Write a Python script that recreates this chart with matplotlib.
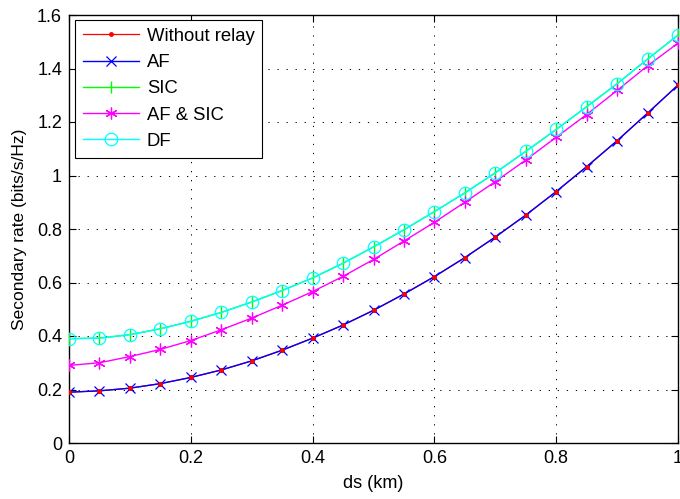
import matplotlib
matplotlib.use("Agg")
import matplotlib.pyplot as plt

x = [0.00, 0.05, 0.10, 0.15, 0.20, 0.25, 0.30, 0.35, 0.40, 0.45, 0.50,
     0.55, 0.60, 0.65, 0.70, 0.75, 0.80, 0.85, 0.90, 0.95, 1.00]
without_relay = [0.190, 0.195, 0.205, 0.222, 0.245, 0.273, 0.307, 0.347, 0.392, 0.441, 0.496,
                 0.557, 0.622, 0.693, 0.770, 0.852, 0.940, 1.033, 1.130, 1.233, 1.338]
af = [0.190, 0.195, 0.205, 0.222, 0.245, 0.273, 0.307, 0.347, 0.392, 0.441, 0.496,
      0.557, 0.622, 0.693, 0.770, 0.852, 0.940, 1.033, 1.130, 1.233, 1.338]
sic = [0.390, 0.392, 0.405, 0.427, 0.455, 0.488, 0.527, 0.570, 0.617, 0.672, 0.733,
       0.797, 0.865, 0.935, 1.010, 1.090, 1.172, 1.257, 1.343, 1.435, 1.525]
af_sic = [0.290, 0.300, 0.323, 0.350, 0.383, 0.423, 0.467, 0.515, 0.566, 0.623, 0.686,
          0.755, 0.825, 0.900, 0.977, 1.058, 1.143, 1.228, 1.318, 1.410, 1.495]
df = [0.390, 0.392, 0.405, 0.427, 0.455, 0.488, 0.527, 0.570, 0.617, 0.672, 0.733,
      0.797, 0.865, 0.935, 1.010, 1.090, 1.172, 1.257, 1.343, 1.435, 1.525]

xticks = [0, 0.2, 0.4, 0.6, 0.8, 1]
xticklabels = ["0", "0.2", "0.4", "0.6", "0.8", "1"]
yticks = [0, 0.2, 0.4, 0.6, 0.8, 1, 1.2, 1.4, 1.6]
yticklabels = ["0", "0.2", "0.4", "0.6", "0.8", "1", "1.2", "1.4", "1.6"]

plt.rcParams['font.family'] = ['Liberation Sans', 'DejaVu Sans']
FS = 13

fig = plt.figure(figsize=(6.8, 4.99), dpi=100)
ax = fig.add_axes([69/680, 56/499, (678-69)/680, (443-15)/499])

lw = 1.0
h_wr, = ax.plot(x, without_relay, color=(1, 0, 0), marker='.', markersize=5, lw=0.9,
                label='Without relay', zorder=2)
h_af, = ax.plot(x, af, color=(0, 0, 1), marker='x', markersize=6.5, lw=lw, mew=0.9,
                label='AF', zorder=3)
ax.plot(x, without_relay, color=(1, 0, 0), marker='.', markersize=5, lw=0, zorder=4)
h_sic, = ax.plot(x, sic, color=(0, 1, 0), marker='|', markersize=9, lw=lw, mew=1.0,
                 label='SIC', zorder=3)
h_as, = ax.plot(x, af_sic, color=(1, 0, 1), marker=(6, 2, 0), markersize=8.5, lw=lw,
                mew=0.9, label='AF & SIC', zorder=3)
h_df, = ax.plot(x, df, color=(0, 1, 1), marker='o', markersize=9, mfc='none', lw=lw,
                mew=0.9, label='DF', zorder=5)

ax.set_xlim(0, 1)
ax.set_ylim(0, 1.6)
ax.set_xticks(xticks)
ax.set_xticklabels(xticklabels)
ax.set_yticks(yticks)
ax.set_yticklabels(yticklabels)
ax.tick_params(direction='in', length=5, labelsize=FS, top=True, right=True, pad=5)
ax.grid(True, color='black', linestyle=(0, (1.3, 8)), linewidth=0.7)
for s in ax.spines.values():
    s.set_linewidth(1.0)

ax.set_xlabel('ds (km)', fontsize=FS, labelpad=6)
ax.set_ylabel('Secondary rate (bits/s/Hz)', fontsize=12.5, labelpad=7)

leg = ax.legend([h_wr, h_af, h_sic, h_as, h_df],
                ['Without relay', 'AF', 'SIC', 'AF & SIC', 'DF'], loc='upper left',
                bbox_to_anchor=(0.0099, 0.988), fontsize=13.3, fancybox=False,
                edgecolor='black', framealpha=1, handlelength=3.05,
                borderpad=0.42, labelspacing=0.5, handletextpad=0.42, borderaxespad=0)
leg.get_frame().set_linewidth(0.8)

fig.savefig('out.png', dpi=100)
